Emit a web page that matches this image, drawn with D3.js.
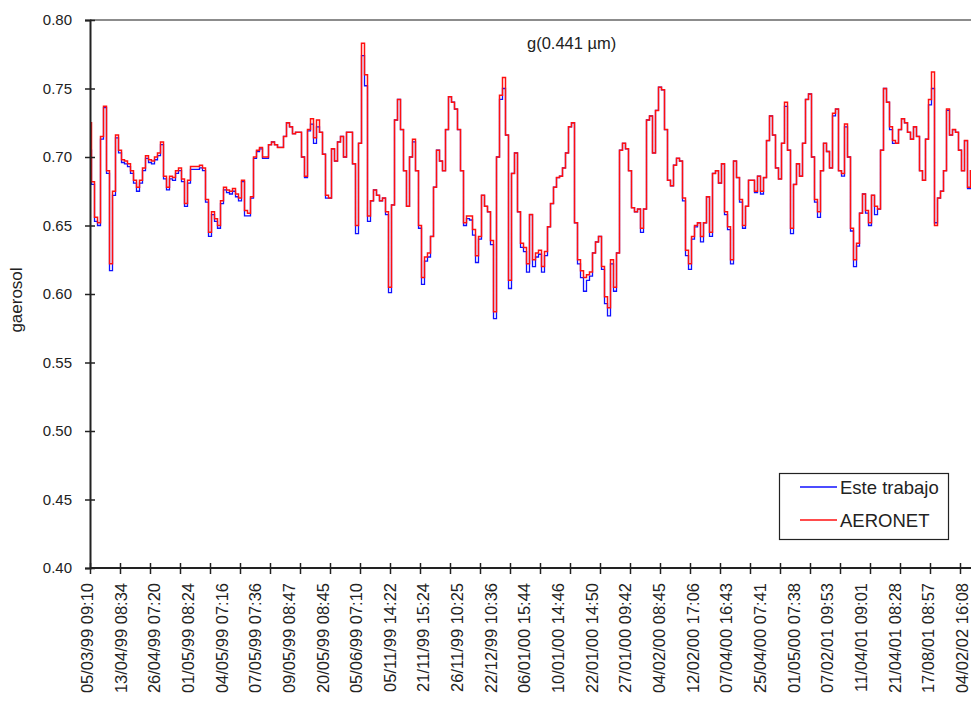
<!DOCTYPE html>
<html>
<head>
<meta charset="utf-8">
<script src="https://cdn.jsdelivr.net/npm/d3@7"></script>
<style>
  body { margin: 0; background: #fff; }
  svg { display: block; font-family: "Liberation Sans", Arial, sans-serif; }
</style>
</head>
<body>
<svg id="chart" width="971" height="704"></svg>
<script>
// fechas mostradas en el eje x
var xLabels = ["05/03/99 09:10","13/04/99 08:34","26/04/99 07:20","01/05/99 08:24","04/05/99 07:16",
  "07/05/99 07:36","09/05/99 08:47","20/05/99 08:45","05/06/99 07:10","05/11/99 14:22","21/11/99 15:24",
  "26/11/99 10:25","22/12/99 10:36","06/01/00 15:44","10/01/00 14:46","22/01/00 14:50","27/01/00 09:42",
  "04/02/00 08:45","12/02/00 17:06","07/04/00 16:43","25/04/00 07:41","01/05/00 07:38","07/02/01 09:53",
  "11/04/01 09:01","21/04/01 08:28","17/08/01 08:57","04/02/02 16:08"];

var yTicks = [0.40, 0.45, 0.50, 0.55, 0.60, 0.65, 0.70, 0.75, 0.80];

// AERONET (rojo)
var aeronet = [
  .725,.682,.656,.652,.715,.737,.690,.622,.675,.716,
  .705,.698,.697,.695,.690,.683,.678,.683,.692,.701,
  .698,.697,.700,.703,.711,.686,.678,.686,.685,.690,
  .692,.684,.666,.683,.693,.693,.693,.694,.692,.669,
  .645,.660,.655,.650,.668,.678,.676,.675,.677,.673,
  .670,.683,.661,.659,.671,.700,.705,.707,.700,.700,
  .709,.711,.709,.707,.707,.715,.725,.722,.717,.718,
  .718,.700,.686,.720,.728,.714,.727,.718,.702,.672,
  .670,.706,.697,.711,.715,.700,.718,.718,.695,.650,
  .710,.783,.760,.657,.668,.676,.672,.668,.670,.660,
  .605,.665,.727,.742,.720,.690,.664,.700,.713,.690,
  .650,.612,.627,.630,.642,.678,.705,.697,.690,.720,
  .744,.740,.735,.720,.690,.652,.657,.657,.647,.628,
  .642,.672,.664,.660,.639,.587,.700,.745,.758,.716,
  .610,.688,.703,.660,.637,.634,.622,.658,.625,.630,
  .632,.620,.631,.649,.666,.678,.685,.686,.692,.703,
  .722,.725,.652,.625,.617,.612,.614,.616,.630,.638,
  .642,.620,.598,.590,.625,.605,.630,.705,.710,.706,
  .690,.663,.660,.662,.648,.662,.727,.730,.703,.734,
  .751,.749,.720,.683,.679,.694,.699,.697,.670,.632,
  .622,.642,.650,.652,.642,.652,.671,.645,.688,.690,
  .681,.695,.660,.649,.625,.697,.685,.669,.650,.664,
  .683,.683,.675,.686,.675,.685,.712,.730,.716,.692,
  .684,.710,.740,.705,.648,.680,.695,.686,.710,.742,
  .746,.700,.669,.660,.690,.710,.704,.692,.732,.735,
  .690,.688,.724,.700,.648,.625,.637,.659,.673,.661,
  .652,.672,.664,.662,.705,.750,.740,.722,.712,.710,
  .720,.728,.725,.718,.713,.722,.715,.690,.683,.713,
  .742,.762,.650,.670,.675,.690,.735,.716,.720,.718,
  .705,.690,.712,.678,.690
];

// Este trabajo (azul)
var esteTrabajo = [
  .705,.680,.653,.650,.713,.736,.688,.617,.672,.714,
  .703,.696,.695,.693,.688,.681,.675,.681,.690,.699,
  .696,.695,.698,.701,.709,.684,.676,.684,.683,.688,
  .690,.682,.664,.681,.691,.691,.691,.692,.690,.667,
  .642,.658,.653,.648,.666,.676,.674,.673,.675,.671,
  .668,.682,.657,.657,.670,.699,.704,.706,.699,.699,
  .709,.711,.709,.707,.707,.715,.725,.722,.717,.718,
  .718,.700,.685,.719,.724,.710,.722,.718,.702,.670,
  .670,.706,.697,.711,.715,.700,.718,.718,.695,.644,
  .710,.774,.752,.653,.668,.676,.672,.668,.670,.658,
  .601,.665,.727,.742,.720,.690,.664,.700,.711,.690,
  .648,.607,.624,.627,.642,.678,.705,.697,.690,.720,
  .744,.740,.735,.720,.690,.650,.655,.654,.643,.623,
  .640,.672,.664,.660,.636,.582,.700,.742,.750,.716,
  .604,.688,.703,.660,.634,.631,.616,.658,.620,.627,
  .629,.616,.628,.649,.666,.678,.685,.686,.692,.703,
  .722,.725,.652,.622,.612,.602,.610,.613,.630,.638,
  .642,.618,.593,.584,.622,.602,.630,.705,.710,.706,
  .690,.663,.660,.662,.645,.662,.727,.730,.703,.734,
  .751,.749,.720,.683,.679,.694,.699,.697,.668,.628,
  .618,.640,.649,.652,.638,.652,.671,.642,.688,.690,
  .681,.695,.658,.647,.622,.697,.685,.667,.648,.664,
  .683,.683,.674,.686,.673,.685,.712,.730,.716,.692,
  .684,.710,.737,.705,.644,.680,.695,.686,.710,.742,
  .746,.700,.667,.656,.690,.710,.704,.692,.730,.735,
  .690,.686,.722,.700,.646,.620,.635,.659,.673,.659,
  .650,.672,.658,.662,.705,.750,.740,.720,.710,.710,
  .720,.728,.725,.718,.713,.722,.715,.690,.683,.713,
  .738,.750,.652,.670,.675,.690,.734,.716,.720,.718,
  .705,.690,.712,.677,.690
];

var svg = d3.select("#chart");
var plotLeft = 90, plotTop = 20, plotBottom = 568, plotRight = 972;

var y = d3.scaleLinear().domain([0.40, 0.80]).range([plotBottom, plotTop]);
var x = d3.scaleLinear().domain([0, aeronet.length - 1]).range([plotLeft, plotRight]);
var tickPos = d3.scaleLinear().domain([0, 29]).range([plotLeft, 960]);
var labelPos = d3.scalePoint().domain(xLabels).range([87, 962]);

svg.append("clipPath").attr("id", "plotclip")
  .append("rect").attr("x", plotLeft).attr("y", 0).attr("width", 971 - plotLeft).attr("height", plotBottom);

// borde superior
svg.append("line")
  .attr("x1", plotLeft).attr("x2", 971).attr("y1", plotTop).attr("y2", plotTop)
  .attr("stroke", "#8c8c8c").attr("stroke-width", 2);

// series
var line = d3.line()
  .curve(d3.curveStep)
  .x(function(d, i){ return x(i); })
  .y(function(d){ return y(d); });
var plot = svg.append("g").attr("clip-path", "url(#plotclip)");
plot.append("path")
  .attr("d", line(esteTrabajo))
  .attr("fill", "none").attr("stroke", "#1010ff").attr("stroke-width", 1.3);
plot.append("path")
  .attr("d", line(aeronet))
  .attr("fill", "none").attr("stroke", "#ff1010").attr("stroke-width", 1.5);

// eje y
var yAxis = svg.append("g").attr("transform", "translate(" + plotLeft + ",0)")
  .call(d3.axisLeft(y).tickValues(yTicks).tickFormat(d3.format(".2f")).tickSizeOuter(0).tickSize(5).tickPadding(13));
yAxis.select(".domain").attr("stroke", "#222").attr("stroke-width", 2);
yAxis.selectAll(".tick line").attr("x1", 5).attr("x2", -5).attr("stroke", "#222").attr("stroke-width", 1.5);
yAxis.selectAll(".tick text").attr("font-size", "15px").attr("fill", "#222")
  .attr("font-family", "Liberation Sans, Arial, sans-serif");

// eje x
var xAxis = svg.append("g").attr("transform", "translate(0," + plotBottom + ")")
  .call(d3.axisBottom(tickPos).tickValues(d3.range(30)).tickFormat("").tickSizeOuter(0).tickSize(5));
xAxis.select(".domain").attr("d", "M" + plotLeft + ",0H971").attr("stroke", "#222").attr("stroke-width", 2);
xAxis.selectAll(".tick line").attr("y1", -5).attr("y2", 6).attr("stroke", "#222").attr("stroke-width", 1.5);

svg.append("g").selectAll("text")
  .data(xLabels).enter().append("text")
  .attr("transform", function(d){ return "translate(" + labelPos(d) + ",583) rotate(-90)"; })
  .attr("dy", "0.36em")
  .attr("text-anchor", "end")
  .attr("font-size", "16.5px")
  .attr("fill", "#222")
  .text(function(d){ return d; });

// títulos
svg.append("text")
  .attr("transform", "translate(22,300) rotate(-90)")
  .attr("text-anchor", "middle")
  .attr("font-size", "17px").attr("fill", "#222")
  .text("gaerosol");

svg.append("text")
  .attr("x", 527).attr("y", 49)
  .attr("font-size", "16.5px").attr("fill", "#222")
  .text("g(0.441 µm)");

// leyenda
var legend = svg.append("g");
legend.append("rect")
  .attr("x", 779.5).attr("y", 473.5).attr("width", 169).attr("height", 66)
  .attr("fill", "#fff").attr("stroke", "#222").attr("stroke-width", 1.2);
var items = [{name: "Este trabajo", color: "#1010ff", y: 487}, {name: "AERONET", color: "#ff1010", y: 520}];
items.forEach(function(it){
  legend.append("line").attr("x1", 800).attr("x2", 837).attr("y1", it.y).attr("y2", it.y)
    .attr("stroke", it.color).attr("stroke-width", 1.6);
  legend.append("text").attr("x", 840).attr("y", it.y + 6.5)
    .attr("font-size", "18.5px").attr("fill", "#222").text(it.name);
});
</script>
</body>
</html>
